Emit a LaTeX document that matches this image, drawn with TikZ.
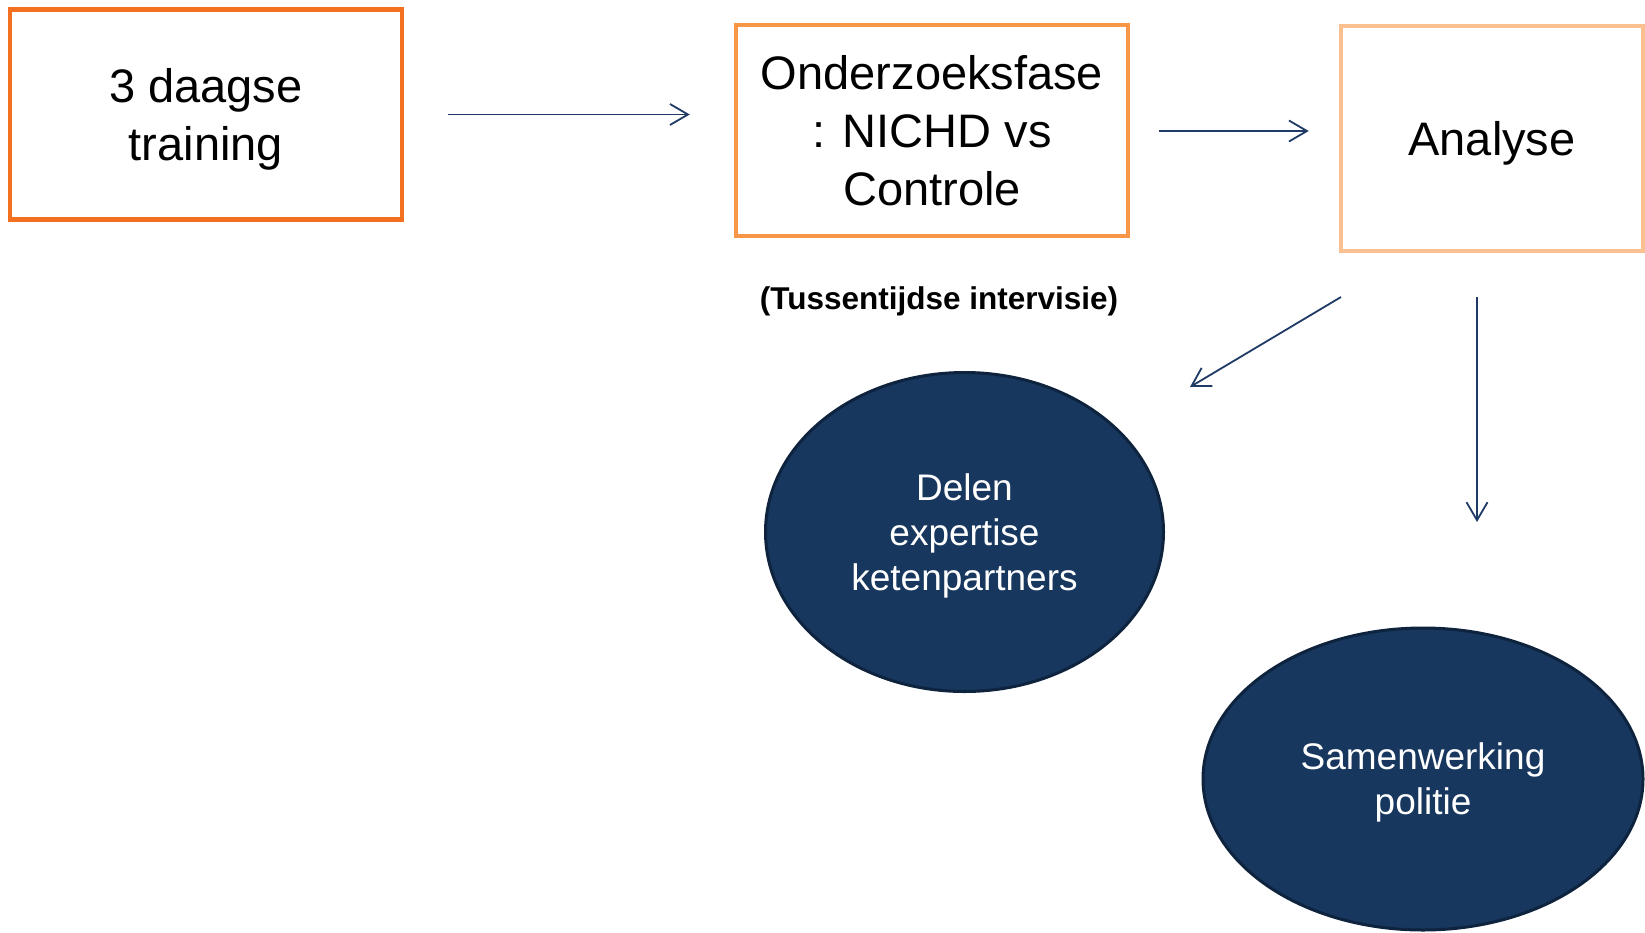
\documentclass[tikz,border=0pt]{standalone}
\usepackage{fontspec}
\setmainfont{Liberation Sans}
\usetikzlibrary{arrows.meta,shapes.geometric}
\definecolor{boxorange}{RGB}{242,112,32}
\definecolor{boxmid}{RGB}{247,150,70}
\definecolor{boxlight}{RGB}{250,192,144}
\definecolor{navy}{RGB}{23,55,94}
\definecolor{navyline}{RGB}{14,35,62}
\definecolor{arrowblue}{RGB}{31,58,100}

\begin{document}
\begin{tikzpicture}[x=1pt,y=-1pt,
    phasebox/.style={draw, line width=4.5pt, minimum width=392pt, align=center, inner sep=0pt, text depth=0pt, font=\fontsize{47}{58}\selectfont},
    topic/.style={ellipse, draw=navyline, fill=navy, line width=3pt, text=white, align=center, inner sep=0pt, text depth=0pt, font=\fontsize{37}{45}\selectfont},
    flow/.style={draw=arrowblue, line width=1.8pt, -{Straight Barb[length=18pt,width=21pt]}}]
        \useasboundingbox (0,0) rectangle (1645,932);
        % Phases
        \node[phasebox, draw=boxorange, minimum height=210pt] (training) at (206,114.5) {3 daagse\\training};
        \node[phasebox, draw=boxmid, minimum height=211pt] (onderzoek) at (932,130.5) {Onderzoeksfase\\: NICHD vs\\Controle};
        \node[phasebox, draw=boxlight, minimum width=302pt, minimum height=225pt] (analyse) at (1492,138.5) {Analyse};
        \node[text depth=0pt, font=\bfseries\fontsize{31.5}{38}\selectfont] (intervisie) at (939,298) {(Tussentijdse intervisie)};
        % Outcomes
        \node[topic, minimum width=398pt, minimum height=319pt] (delen) at (964.5,532) {Delen\\expertise\\ketenpartners};
        \node[topic, minimum width=440pt, minimum height=302pt] (politie) at (1423,779) {Samenwerking\\politie};
        \coordinate (d0) at (1341,297);
        \coordinate (d1) at (1190,387);
        \coordinate (p0) at (1477,297);
        \coordinate (p1) at (1477,522);
        % Arrows
        \draw[flow, shorten <=44pt, shorten >=44pt] (training.east) -- (training.east -| onderzoek.west);
        \draw[flow, shorten <=29pt, shorten >=30pt] ([yshift=-0.5pt]onderzoek.east) -- ([yshift=-0.5pt]onderzoek.east -| analyse.west);
        \draw[flow] (d0) -- (d1);
        \draw[flow] (p0) -- (p1);
    \end{tikzpicture}
\end{document}
